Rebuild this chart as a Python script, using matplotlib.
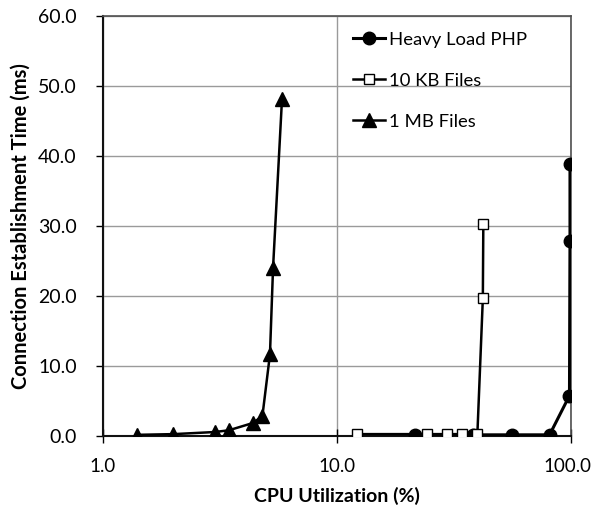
import matplotlib
matplotlib.use("Agg")
import matplotlib.pyplot as plt
import matplotlib.transforms as mtransforms

plt.rcParams['font.family'] = ['Lato', 'DejaVu Sans']

# Data
php_x = [21.5, 38.0, 56.0, 81.0, 98.5, 99.0, 99.0]
php_y = [0.1, 0.1, 0.1, 0.1, 5.7, 27.8, 38.9]

kb10_x = [12.2, 24.2, 29.4, 34.3, 39.8, 42.0, 42.2]
kb10_y = [0.2, 0.2, 0.2, 0.2, 0.2, 19.6, 30.3]

mb1_x = [1.40, 2.0, 3.0, 3.45, 4.38, 4.8, 5.17, 5.33, 5.82]
mb1_y = [0.1, 0.2, 0.5, 0.75, 1.8, 2.8, 11.6, 24.0, 48.1]

xticks = [1.0, 10.0, 100.0]
yticks = [0, 10, 20, 30, 40, 50, 60]

fig = plt.figure(figsize=(5.93, 5.11), dpi=100)
ax = fig.add_axes([0.1737, 0.1477, 0.7892, 0.821])

ax.plot(php_x, php_y, color='black', lw=2.2, marker='o', ms=9,
        markerfacecolor='black', markeredgecolor='black', label='Heavy Load PHP', zorder=3)
ax.plot(kb10_x, kb10_y, color='black', lw=1.8, marker='s', ms=7.5,
        markerfacecolor='white', markeredgecolor='black', markeredgewidth=1.0,
        label='10 KB Files', zorder=4)
ax.plot(mb1_x, mb1_y, color='black', lw=1.8, marker='^', ms=9.5,
        markerfacecolor='black', markeredgecolor='black', label='1 MB Files', zorder=3)

ax.set_xscale('log')
ax.set_xlim(1.0, 100.0)
ax.set_ylim(0, 60)
ax.set_xticks(xticks)
ax.set_xticklabels([f"{v:.1f}" for v in xticks])
ax.xaxis.set_minor_locator(matplotlib.ticker.NullLocator())
ax.set_yticks(yticks)
ax.set_yticklabels([f"{v:.1f}" for v in yticks])

ax.grid(True, which='major', color='#9a9a9a', lw=1.0, zorder=0)
ax.set_axisbelow(True)

for s in ['left', 'bottom']:
    ax.spines[s].set_color('#111111')
    ax.spines[s].set_linewidth(1.5)
for s in ['top', 'right']:
    ax.spines[s].set_color('#505050')
    ax.spines[s].set_linewidth(1.2)

ax.tick_params(axis='y', direction='out', length=5, width=1, labelsize=14, pad=14)
ax.tick_params(axis='x', direction='inout', length=10, width=1, labelsize=13.5, pad=11)

# nudge the last x tick label slightly left so it stays inside the figure
last = ax.get_xticklabels()[-1]
last.set_transform(last.get_transform() + mtransforms.ScaledTranslation(-4 / 100, 0, fig.dpi_scale_trans))

ax.set_xlabel('CPU Utilization (%)', fontsize=14, fontweight='bold', labelpad=9)
ax.set_ylabel('Connection Establishment Time (ms)', fontsize=14.5, fontweight='bold', labelpad=5)

leg = ax.legend(loc='upper left', bbox_to_anchor=(0.534, 0.962), frameon=False, fontsize=13.3,
                handlelength=1.75, handletextpad=0.2, labelspacing=1.35,
                borderaxespad=0.0, borderpad=0.0)

fig.savefig('out.png', dpi=100)
